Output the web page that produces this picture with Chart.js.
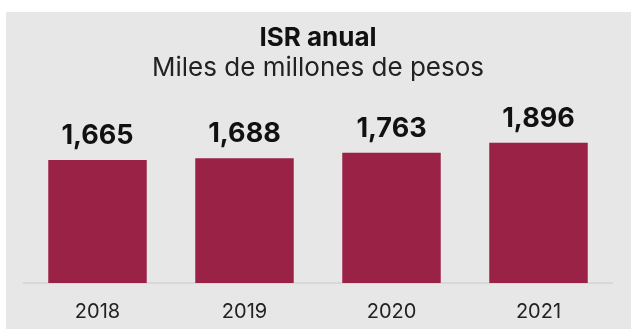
<!DOCTYPE html>
<html>
<head>
<meta charset="utf-8">
<script src="https://cdn.jsdelivr.net/npm/chart.js@4"></script>
<style>
  html, body { margin: 0; padding: 0; background: #fff; }
  #box {
    position: absolute; left: 6px; top: 12px;
    width: 625px; height: 317px;
    background: #e7e7e7;
  }
</style>
</head>
<body>
<div id="box"><canvas id="isrChart"></canvas></div>
<script>
const years = ['2018', '2019', '2020', '2021'];
const isrValues = [1665, 1688, 1763, 1896];
const chartTitle = 'ISR anual';
const chartSubtitle = 'Miles de millones de pesos';

const FONT = 'Inter, "Noto Sans", sans-serif';

// --- value labels on top of the bars ---
const barLabelPlugin = {
  id: 'barLabelPlugin',
  afterDatasetsDraw(chart) {
    const ctx = chart.ctx;
    const meta = chart.getDatasetMeta(0);
    meta.data.forEach(function(bar, i) {
      const val = chart.data.datasets[0].data[i];
      ctx.save();
      ctx.font = '700 27px ' + FONT;
      ctx.fillStyle = '#111';
      ctx.textAlign = 'center';
      ctx.textBaseline = 'alphabetic';
      ctx.fillText(val.toLocaleString('en-US'), bar.x, bar.y - 16);
      ctx.restore();
    });
  }
};

new Chart(document.getElementById('isrChart'), {
  type: 'bar',
  data: {
    labels: years,
    datasets: [{
      data: isrValues,
      backgroundColor: '#9b2247',
      categoryPercentage: 1,
      barPercentage: 0.67
    }]
  },
  options: {
    responsive: true,
    maintainAspectRatio: false,
    animation: false,
    layout: { padding: { left: 18, right: 19, top: 0, bottom: -4 } },
    plugins: {
      legend: { display: false },
      tooltip: { enabled: false },
      title: {
        display: true,
        text: chartTitle,
        color: '#111',
        font: { family: FONT, size: 26, weight: '700', lineHeight: 1.0 },
        padding: { top: 13, bottom: 2 }
      },
      subtitle: {
        display: true,
        text: chartSubtitle,
        color: '#222',
        font: { family: FONT, size: 26, weight: '400', lineHeight: 1.2 },
        padding: { top: 0, bottom: 11 }
      }
    },
    scales: {
      x: {
        grid: { display: false },
        border: { display: true, color: '#d8d8d8', width: 2 },
        ticks: { color: '#222', font: { family: FONT, size: 20 }, padding: 9 }
      },
      y: {
        display: false,
        min: 0,
        max: 2540
      }
    }
  },
  plugins: [barLabelPlugin]
});
</script>
</body>
</html>
